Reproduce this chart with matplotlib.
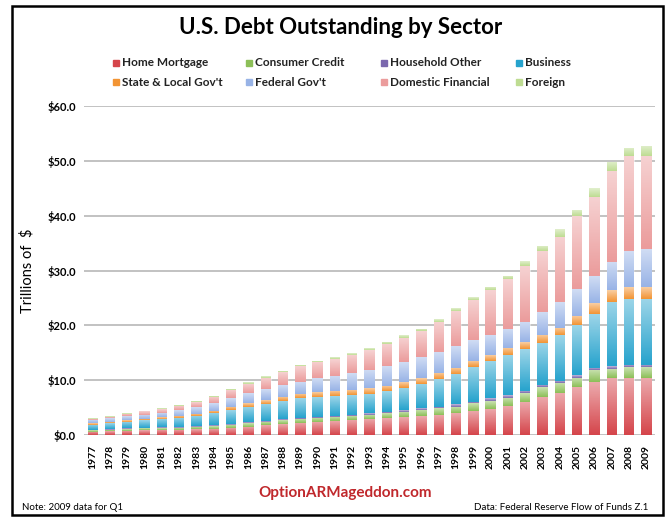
import numpy as np
import matplotlib
matplotlib.use("Agg")
import matplotlib.pyplot as plt
from matplotlib.patches import Rectangle

# Trillions of $
years = [str(y) for y in range(1977, 2010)]

home_mortgage = [0.60, 0.70, 0.80, 0.88, 0.93, 0.97, 1.07, 1.20, 1.36, 1.56, 1.78, 2.00, 2.22,
                 2.42, 2.60, 2.78, 2.93, 3.10, 3.25, 3.45, 3.66, 4.00, 4.40, 4.75, 5.30, 6.10,
                 7.00, 7.60, 8.70, 9.60, 10.40, 10.40, 10.40]
consumer_credit = [0.25, 0.29, 0.33, 0.35, 0.36, 0.37, 0.41, 0.50, 0.57, 0.62, 0.65, 0.69, 0.74,
                   0.75, 0.74, 0.75, 0.80, 0.91, 1.04, 1.13, 1.24, 1.20, 1.40, 1.45, 1.50, 1.60,
                   1.70, 1.90, 1.70, 2.30, 1.70, 1.95, 1.95]
household_other = [0.08, 0.09, 0.10, 0.11, 0.12, 0.12, 0.13, 0.14, 0.15, 0.16, 0.17, 0.18, 0.19,
                   0.20, 0.21, 0.22, 0.23, 0.24, 0.26, 0.28, 0.30, 0.40, 0.30, 0.50, 0.50, 0.40,
                   0.40, 0.40, 0.50, 0.40, 0.50, 0.50, 0.50]
business = [0.95, 1.08, 1.22, 1.36, 1.55, 1.70, 1.88, 2.20, 2.50, 2.85, 3.12, 3.35, 3.55,
            3.62, 3.55, 3.55, 3.62, 3.80, 4.12, 4.55, 5.00, 5.60, 6.40, 6.90, 7.30, 7.60,
            7.70, 8.30, 9.10, 9.80, 11.70, 12.05, 12.05]
state_local = [0.27, 0.29, 0.31, 0.33, 0.34, 0.38, 0.42, 0.45, 0.62, 0.66, 0.72, 0.77, 0.82,
               0.87, 0.92, 0.96, 1.00, 0.98, 0.98, 1.02, 1.10, 1.10, 1.10, 1.00, 1.30, 1.20,
               1.50, 1.40, 1.80, 2.00, 2.10, 2.10, 2.10]
federal = [0.55, 0.60, 0.65, 0.73, 0.82, 0.98, 1.18, 1.37, 1.60, 1.80, 1.96, 2.10, 2.25,
           2.50, 2.80, 3.08, 3.34, 3.50, 3.64, 3.78, 3.80, 3.90, 3.70, 3.60, 3.50, 3.80,
           4.10, 4.70, 4.90, 4.90, 5.20, 6.50, 6.90]
domestic_financial = [0.25, 0.30, 0.40, 0.55, 0.70, 0.78, 0.90, 1.12, 1.47, 1.71, 2.05, 2.35, 2.76,
                      2.96, 3.08, 3.34, 3.64, 4.10, 4.51, 4.74, 5.60, 6.40, 7.40, 8.20, 9.10, 10.10,
                      11.10, 11.90, 13.20, 14.50, 16.50, 17.40, 17.00]
foreign = [0.10, 0.12, 0.14, 0.17, 0.18, 0.20, 0.21, 0.22, 0.23, 0.24, 0.25, 0.26, 0.27,
           0.28, 0.30, 0.32, 0.34, 0.37, 0.40, 0.45, 0.50, 0.50, 0.50, 0.60, 0.60, 0.90,
           1.00, 1.40, 1.20, 1.60, 1.70, 1.50, 1.90]

sector_names = ["Home Mortgage", "Consumer Credit", "Household Other", "Business",
                "State & Local Gov't", "Federal Gov't", "Domestic Financial", "Foreign"]
sector_values = [home_mortgage, consumer_credit, household_other, business,
                 state_local, federal, domestic_financial, foreign]
sector_colors = ["#d5454b", "#8cbf58", "#7b68ae", "#27a3cd",
                 "#f29434", "#98b3e6", "#eb9c9c", "#bedc92"]

plt.rcParams["font.family"] = ["Lato", "DejaVu Sans"]

fig = plt.figure(figsize=(6.67, 5.18), dpi=100)
ax = fig.add_axes([0.126, 0.160, 0.856, 0.635])

x = np.arange(len(years))
bottom = np.zeros(len(years))
bar_groups = []
for vals, col in zip(sector_values, sector_colors):
    bars = ax.bar(x, vals, width=0.6, bottom=bottom, color=col, linewidth=0, zorder=3)
    bar_groups.append(bars)
    bottom = bottom + np.array(vals)

# glossy look: white fade from top of each segment, clipped to the bar
grad = np.ones((64, 1, 4))
grad[:, 0, 3] = np.linspace(0.55, 0.0, 64)
for bars in bar_groups:
    for p in bars:
        x0, y0, w, h = p.get_x(), p.get_y(), p.get_width(), p.get_height()
        im = ax.imshow(grad, extent=(x0, x0 + w, y0, y0 + h), aspect="auto",
                       origin="upper", zorder=4, interpolation="bilinear")
        im.set_clip_path(p)

ax.set_xlim(-0.5, len(years) - 0.5)
ax.set_ylim(0, 60)
ax.set_yticks(range(0, 61, 10))
ax.set_yticklabels([f"${v:.1f}" for v in range(0, 61, 10)], fontsize=8, fontweight="bold")
ax.set_xticks(x)
ax.set_xticklabels(years, rotation=90, fontsize=7.5, fontweight="bold")
ax.tick_params(length=0, pad=6)
ax.tick_params(axis="x", pad=7)
ax.grid(axis="y", color="#b8b8b8", linewidth=1.2, zorder=0)
for s in ax.spines.values():
    s.set_visible(False)
ax.set_ylabel("Trillions of  $", fontsize=10.5, labelpad=9)

fig.text(0.51, 0.947, "U.S. Debt Outstanding by Sector", ha="center", va="center",
         fontsize=16, fontweight="bold")

# legend, 2 rows x 4 columns
col_x = [116, 249, 384, 519]
row_y = [63, 82]
order = [[0, 1, 2, 3], [4, 5, 6, 7]]
W, H = 667.0, 518.0
for r, row in enumerate(order):
    for c, idx in enumerate(row):
        fig.patches.append(Rectangle(((col_x[c] - 3) / W, 1 - (row_y[r] + 3) / H), 6 / W, 6 / H,
                                     transform=fig.transFigure, color=sector_colors[idx]))
        fig.text((col_x[c] + 6) / W, 1 - row_y[r] / H, sector_names[idx], ha="left", va="center",
                 fontsize=8.5, fontweight="bold", color="#222222")

fig.text(345 / W, 1 - 493 / H, "OptionARMageddon.com", ha="center", va="center",
         fontsize=11, fontweight="bold", color="#c0282c")
fig.text(22 / W, 1 - 508 / H, "Note: 2009 data for Q1", ha="left", va="center", fontsize=7)
fig.text(648 / W, 1 - 508 / H, "Data: Federal Reserve Flow of Funds Z.1", ha="right",
         va="center", fontsize=7)

fig.patches.append(Rectangle((12 / W, 1 - 515 / H), 651 / W, 509 / H, transform=fig.transFigure,
                             fill=False, edgecolor="black", linewidth=1.8))

fig.savefig("out.png", dpi=100)
